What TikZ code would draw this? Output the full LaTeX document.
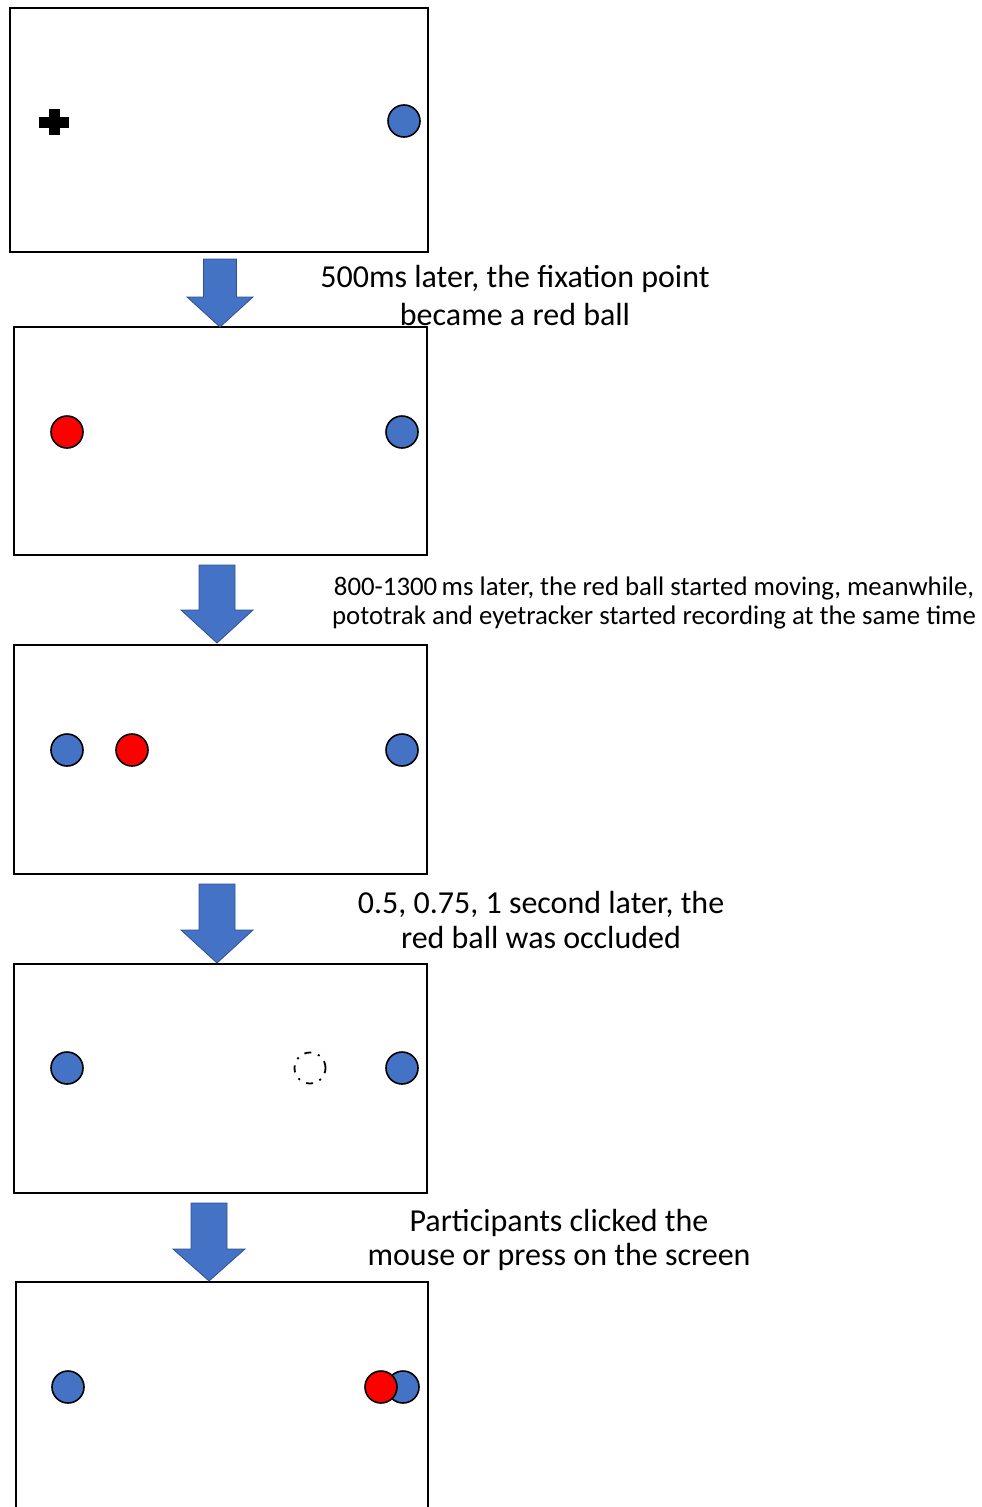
\documentclass[tikz,border=0pt]{standalone}
\usepackage{fontspec}
\setmainfont{Carlito}
\begin{document}
\begin{tikzpicture}[x=1pt,y=-1pt,
  screen/.style={draw=black,line width=2pt,fill=white},
  ball/.style={circle,draw=black,line width=1.6pt,minimum size=32pt,inner sep=0pt},
  blueball/.style={ball,fill=ballblue},
  redball/.style={ball,fill=red},
  hidden/.style={circle,draw=black,line width=1.8pt,dash pattern=on 7pt off 7pt on 2pt off 7pt,minimum size=31pt,inner sep=0pt},
  blockarrow/.style={fill=ballblue,draw=arrowedge,line width=0.8pt,line join=miter},
  caption/.style={align=center,inner sep=0pt,text=black}]
\definecolor{ballblue}{HTML}{4472C4}
\definecolor{arrowedge}{HTML}{2F528F}
\useasboundingbox (0,0) rectangle (982,1507);

% the five screens
\draw[screen] (10,8) rectangle (428,252);
\draw[screen] (14,327) rectangle (427,555);
\draw[screen] (14,645) rectangle (427,874);
\draw[screen] (14,964) rectangle (427,1193);
\draw[screen] (16,1282) rectangle (428,1520);

% screen 1: fixation cross and target
\fill (39,116.5) rectangle (69,127.5);
\fill (48.5,109) rectangle (59.5,135);
\node[blueball] (t1) at (404,121) {};

% screen 2
\node[redball] (r2) at (67,432) {};
\node[blueball] (t2) at (402,432) {};

% screen 3
\node[blueball] (s3) at (67,750) {};
\node[redball] (r3) at (132,750) {};
\node[blueball] (t3) at (402,750) {};

% screen 4
\node[blueball] (s4) at (67,1068) {};
\node[hidden] (h4) at (310,1068) {};
\node[blueball] (t4) at (402,1068) {};

% screen 5
\node[blueball] (s5) at (68,1387) {};
\node[blueball] (t5) at (403,1387) {};
\node[redball] (r5) at (381,1387) {};

% block arrows between screens: centre x, top, head start, tip, head half width, shaft half width
\foreach \cx/\top/\hs/\tip/\hw/\sw in {220/259/297/327/33/16.5, 217/565/610/643/36/18, 217/884/930/963/36/18, 209/1203/1249/1281/36/18}{
  \draw[blockarrow] (\cx-\sw,\top) -- (\cx+\sw,\top) -- (\cx+\sw,\hs) -- (\cx+\hw,\hs)
     -- (\cx,\tip) -- (\cx-\hw,\hs) -- (\cx-\sw,\hs) -- cycle;
}

% captions
\node[caption,font=\fontsize{32}{38}\selectfont] (c1) at (515,296)
  {500ms later, the fixation point\\became a red ball};
\node[caption,font=\fontsize{26.8}{29.5}\selectfont] (c2) at (654,603)
  {800-1300\,ms later, the red ball started moving, meanwhile,\\pototrak and eyetracker started recording at the same time};
\node[caption,font=\fontsize{32}{34.5}\selectfont] (c3) at (541,920)
  {0.5, 0.75, 1 second later, the\\red ball was occluded};
\node[caption,font=\fontsize{32}{34.5}\selectfont] (c4) at (559,1240)
  {Participants clicked the\\mouse or press on the screen};
\end{tikzpicture}
\end{document}
